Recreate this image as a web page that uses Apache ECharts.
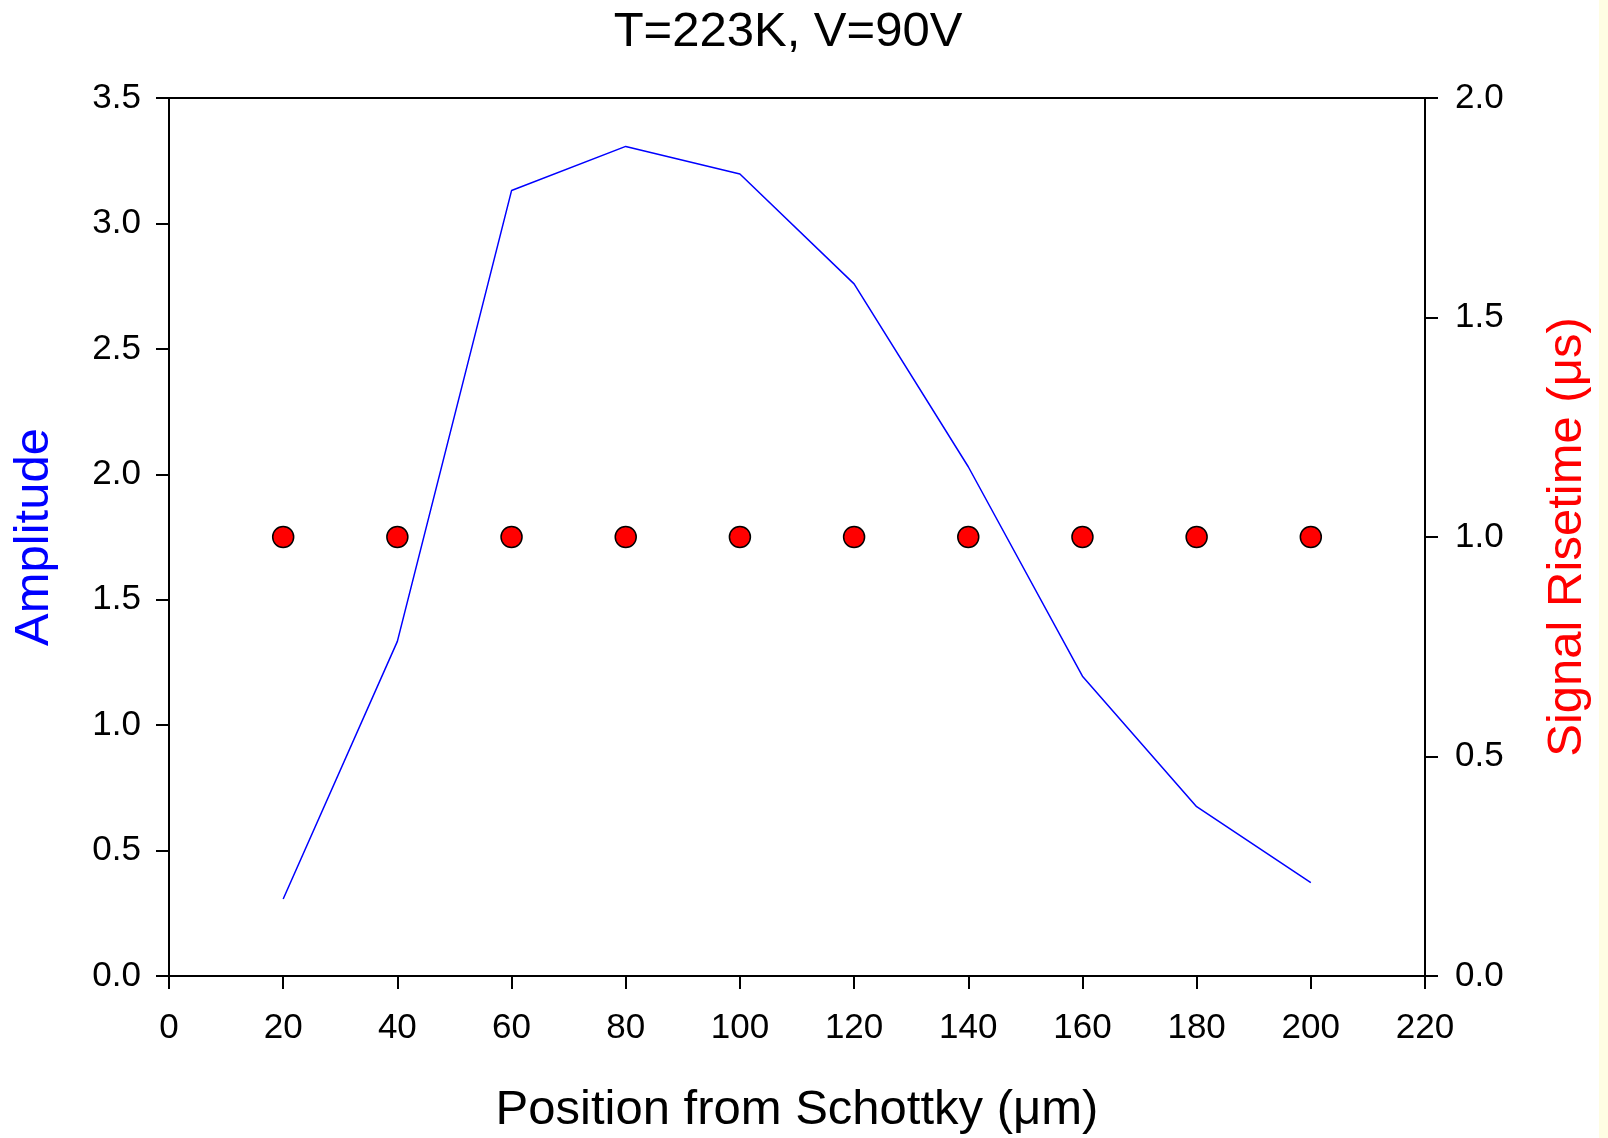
<!DOCTYPE html>
<html><head><meta charset="utf-8">
<script src="https://cdn.jsdelivr.net/npm/echarts@6/dist/echarts.min.js"></script>
<style>html,body{margin:0;padding:0;background:#fff}#c{width:1608px;height:1138px}</style>
</head><body><div id="c"></div>
<script>
const positions = [20, 40, 60, 80, 100, 120, 140, 160, 180, 200];
const amplitude = [0.307, 1.334, 3.131, 3.307, 3.197, 2.759, 2.030, 1.195, 0.675, 0.372];
const risetime = [1.0, 1.0, 1.0, 1.0, 1.0, 1.0, 1.0, 1.0, 1.0, 1.0];
const titleText = 'T=223K, V=90V';
const xTitle = 'Position from Schottky (\u03bcm)';
const yLeftTitle = 'Amplitude';
const yRightTitle = 'Signal Risetime (\u03bcs)';

const FONT = '"Liberation Sans", Arial, sans-serif';
const chart = echarts.init(document.getElementById('c'), null, {renderer: 'canvas'});
const tickLabel = {color: '#000', fontSize: 35, fontFamily: FONT};
const axisLine = {show: true, lineStyle: {color: '#000', width: 2}};
const axisTick = {show: true, inside: false, length: 13, lineStyle: {color: '#000', width: 2}};

chart.setOption({
  backgroundColor: '#fff',
  animation: false,
  title: {
    text: titleText, left: 783, top: 3, textAlign: 'center',
    textStyle: {fontSize: 49, fontWeight: 'normal', color: '#000', fontFamily: FONT}
  },
  graphic: [
    {type: 'rect', right: 0, top: 0, shape: {width: 9, height: 1138}, style: {fill: '#fffde3'}, silent: true}
  ],
  grid: {left: 169, right: 183, top: 98, bottom: 162, containLabel: false, outerBoundsMode: 'none',
         show: true, borderColor: '#000', borderWidth: 2, backgroundColor: 'transparent'},
  xAxis: {
    type: 'value', min: 0, max: 220, interval: 20,
    axisLine: axisLine, axisTick: axisTick, splitLine: {show: false},
    axisLabel: Object.assign({margin: 35}, tickLabel),
    name: xTitle, nameLocation: 'middle', nameGap: 110,
    nameTextStyle: {fontSize: 49, color: '#000', fontFamily: FONT}
  },
  yAxis: [
    {
      type: 'value', min: 0, max: 3.5, interval: 0.5, position: 'left',
      axisLine: axisLine, axisTick: axisTick, splitLine: {show: false},
      axisLabel: Object.assign({margin: 28, formatter: v => v.toFixed(1)}, tickLabel),
      name: yLeftTitle, nameLocation: 'middle', nameGap: 110, nameRotate: 90,
      nameTextStyle: {fontSize: 49, color: '#0000ff', fontFamily: FONT}
    },
    {
      type: 'value', min: 0, max: 2.0, interval: 0.5, position: 'right',
      axisLine: axisLine, axisTick: axisTick, splitLine: {show: false},
      axisLabel: Object.assign({margin: 30, formatter: v => v.toFixed(1)}, tickLabel),
      name: yRightTitle, nameLocation: 'middle', nameGap: 118, nameRotate: 90,
      nameTextStyle: {fontSize: 49, color: '#ff0000', fontFamily: FONT}
    }
  ],
  series: [
    {
      type: 'line', yAxisIndex: 0, data: positions.map((x, i) => [x, amplitude[i]]),
      showSymbol: false, symbol: 'none', lineStyle: {color: '#0000ff', width: 1.5}, z: 2
    },
    {
      type: 'scatter', yAxisIndex: 1, data: positions.map((x, i) => [x, risetime[i]]),
      symbol: 'circle', symbolSize: 21,
      itemStyle: {color: '#ff0000', opacity: 1, borderColor: '#000', borderWidth: 1.5}, z: 3
    }
  ]
});
</script></body></html>
